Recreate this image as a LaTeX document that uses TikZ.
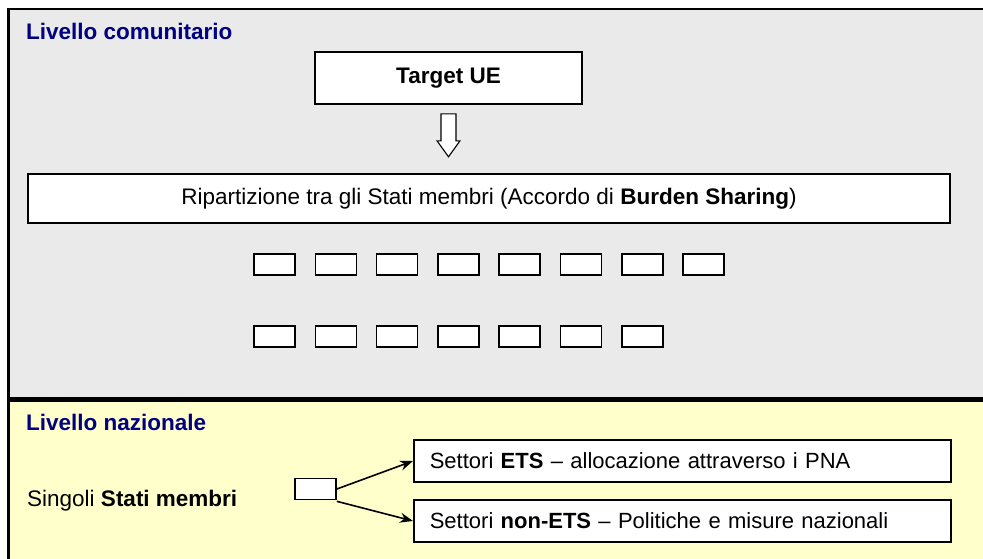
\documentclass[tikz,border=0pt]{standalone}
\usepackage{fontspec}
\setmainfont{Liberation Sans}
\usetikzlibrary{arrows.meta,calc}
\definecolor{panelgray}{HTML}{EAEAEA}
\definecolor{panelyellow}{HTML}{FFFFCC}
\definecolor{titleblue}{HTML}{000080}
\begin{document}
\begin{tikzpicture}[x=1pt,y=-1pt,
  every node/.style={font=\fontsize{22.5}{27}\selectfont},
  panel/.style={draw=black,line width=2.2pt},
  ttl/.style={anchor=west,inner sep=0pt,text=titleblue,font=\fontsize{22.5}{27}\selectfont\bfseries},
  wbox/.style={draw=black,fill=white,line width=1.6pt,inner sep=0pt},
  mini/.style={wbox,minimum width=41pt,minimum height=21pt},
  sector/.style={wbox,anchor=west,minimum width=537pt,minimum height=42pt,text width=505pt,align=left,inner xsep=16pt,font=\fontsize{22}{26}\selectfont},
  conn/.style={line width=1.6pt,-{Stealth[length=13pt,width=10pt]}}]
\useasboundingbox (0,0) rectangle (983,558);
% panels
\path[panel,fill=panelgray] (8.5,9) rectangle (995,398.5);
\path[panel,fill=panelyellow] (8.5,400.5) rectangle (995,575);
% titles
\node[ttl] (t1) at (26,31) {Livello comunitario};
\node[ttl] (t2) at (26,422) {Livello nazionale};
% top level
\node[wbox,minimum width=267pt,minimum height=52pt,font=\fontsize{22.5}{27}\selectfont\bfseries] (target) at (448.5,78) {Target UE};
\node[wbox,minimum width=922pt,minimum height=49pt] (rip) at (489,198.5) {Ripartizione tra gli Stati membri (Accordo di \textbf{Burden Sharing})};
% hollow arrow
\coordinate (ha) at ($(target.south)+(0,9)$);
\draw[line width=1.1pt,fill=white,line join=miter]
  ($(ha)+(-7.5,0)$) -- ($(ha)+(7.5,0)$) -- ($(ha)+(7.5,27)$) -- ($(ha)+(11.5,27)$)
  -- ($(ha)+(0,43)$) -- ($(ha)+(-11.5,27)$) -- ($(ha)+(-7.5,27)$) -- cycle;
% rows of member-state boxes
\foreach \i in {0,...,7} {
  \node[mini] (ra\i) at ({274.5+61.3*\i},264.5) {};
}
\foreach \i in {0,...,6} {
  \node[mini] (rb\i) at ({274.5+61.3*\i},336.5) {};
}
% national level
\node[anchor=west,inner sep=0pt] (sm) at (27,501) {Singoli \textbf{Stati membri}};
\node[mini] (st) at (315.5,489) {};
\node[sector] (ets) at (413,461) {Settori \textbf{ETS} -- allocazione attraverso i PNA};
\node[sector] (nets) at (413,521) {Settori \textbf{non-ETS} -- Politiche e misure nazionali};
\draw[conn] (st.east) -- (ets.west);
\draw[conn] ([yshift=-1pt]st.south east) -- (nets.west);
\end{tikzpicture}
\end{document}
